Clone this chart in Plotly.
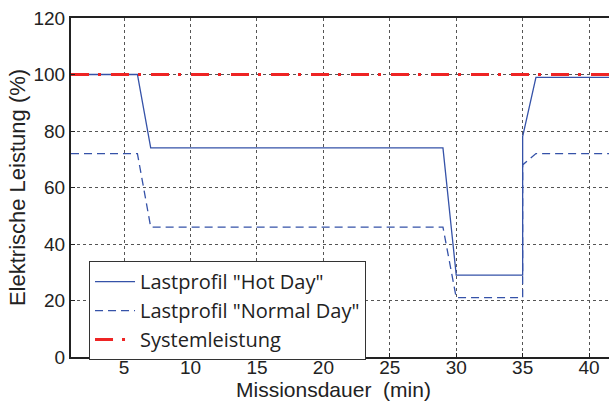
import plotly.graph_objects as go

x_hot = [1, 6, 7, 29, 30, 35, 35, 36, 41.5]
y_hot = [100, 100, 74, 74, 29, 29, 78, 99, 99]
x_norm = [1, 6, 7, 29, 30, 35, 35, 36, 41.5]
y_norm = [72, 72, 46, 46, 21, 21, 68, 72, 72]
x_sys = [1, 41.5]
y_sys = [100, 100]
x_ticks = [5, 10, 15, 20, 25, 30, 35, 40]
y_ticks = [0, 20, 40, 60, 80, 100, 120]

blue = "#3552a8"
fig = go.Figure()
fig.add_trace(go.Scatter(x=x_hot, y=y_hot, mode="lines", name='Lastprofil "Hot Day"',
                         line=dict(color=blue, width=1.3)))
fig.add_trace(go.Scatter(x=x_norm, y=y_norm, mode="lines", name='Lastprofil "Normal Day"',
                         line=dict(color=blue, width=1.3, dash="8px,5px")))
fig.add_trace(go.Scatter(x=x_sys, y=y_sys, mode="lines", name="Systemleistung",
                         line=dict(color="#ee2424", width=3, dash="18px,9px,3px,10px")))

font = "Liberation Sans, Arial, sans-serif"
fig.update_layout(
    width=609, height=401,
    margin=dict(l=71, r=0, t=18, b=44),
    paper_bgcolor="white", plot_bgcolor="white",
    font=dict(family=font, size=18, color="#222"),
    showlegend=True,
    legend=dict(x=0.0335, y=0.283, xanchor="left", yanchor="top",
                bgcolor="white", bordercolor="#333", borderwidth=1,
                font=dict(size=20, family="Open Sans, sans-serif", color="#222"),
                tracegroupgap=0, itemwidth=40),
    xaxis=dict(range=[1, 41.5], tickvals=x_ticks, showgrid=True,
               gridcolor="#555", griddash="dot", gridwidth=1,
               showline=True, linecolor="#222", linewidth=2, mirror=True,
               ticks="inside", ticklen=4, tickcolor="#222", zeroline=False,
               tickfont=dict(size=19), ticklabelstandoff=-8),
    yaxis=dict(range=[0, 120], tickvals=y_ticks, showgrid=True,
               gridcolor="#555", griddash="dot", gridwidth=1,
               showline=True, linecolor="#222", linewidth=2,
               ticks="inside", ticklen=4, tickcolor="#222", zeroline=False,
               title=dict(text="Elektrische Leistung (%)", font=dict(size=22), standoff=2),
               tickfont=dict(size=19)),
    annotations=[dict(text="Missionsdauer  (min)", xref="paper", yref="paper",
                      x=(333 - 71) / 538, y=-(389 - 357) / 339,
                      xanchor="center", yanchor="middle", showarrow=False,
                      font=dict(size=21, family=font, color="#222"))],
)
fig.write_html("out.html")
